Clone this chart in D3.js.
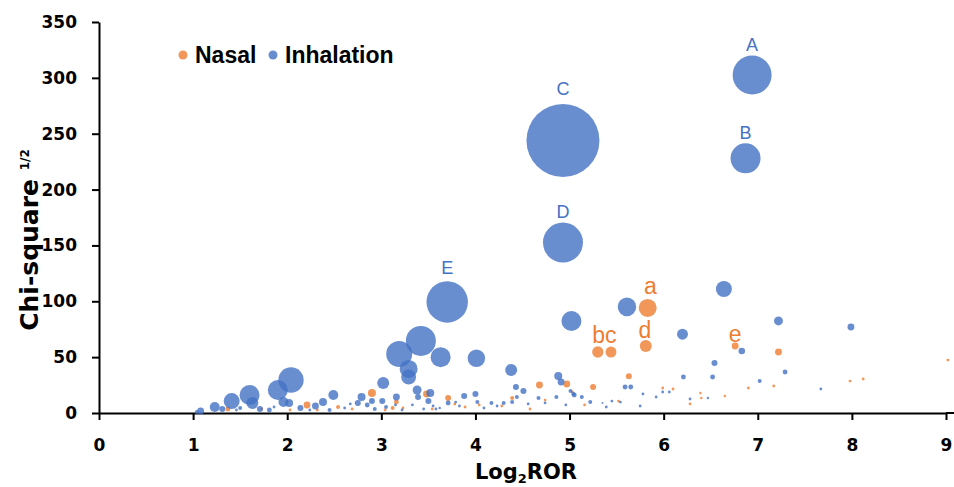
<!doctype html>
<html lang="en">
<head>
  <meta charset="utf-8">
  <title>Log2ROR vs Chi-square bubble chart</title>
<style>
body {
  margin: 0;
  background: #fff;
}
.tick text {
  font-family: "DejaVu Sans", sans-serif;
  font-weight: bold;
  font-size: 17px;
  fill: #000;
}
.axis path, .axis line {
  stroke: #000;
  stroke-width: 2;
}
</style>
<script src="https://d3js.org/d3.v7.min.js"></script>
</head>
<body>
<div class="chart"></div>

<script>
  // Nasal series (orange): Log2ROR, sqrt(chi-square), bubble size
  let nasalX = [5.83, 5.30, 5.44, 5.81, 6.76, 7.22, 4.68, 4.97, 5.25, 5.63,
                2.90, 3.48, 3.71, 2.21, 1.37, 3.16, 3.12, 2.54, 2.32, 4.04,
                4.39, 5.03, 6.10, 5.99, 7.17, 6.90, 6.39, 6.40, 6.65, 7.98,
                8.12, 9.02, 3.23, 4.74, 3.78, 1.73, 2.03, 2.69, 3.04, 3.54,
                3.89, 4.28, 4.58, 5.16, 5.52, 6.28];
  let nasalY = [94, 54.6, 54.6, 60, 60, 54.6, 25, 26, 23.3, 33,
                17.9, 17, 13.4, 7.2, 3.6, 9.8, 4.5, 5.4, 2.7, 7.2,
                13.4, 18.8, 21.5, 22.4, 24.2, 22.4, 17.9, 13.4, 15.2, 28.6,
                30.4, 47.4, 4.5, 11.6, 8, 3.6, 2.7, 3.6, 2.7, 3.6,
                5.4, 6.3, 3.6, 7.2, 10.7, 8.1];
  let nasalSize = [81, 32, 30, 36, 12, 12, 12, 12, 9, 9,
                   16, 12, 9, 12, 6, 6, 4, 4, 2, 2,
                   4, 2, 2, 2, 2, 2, 1.5, 1.5, 1.5, 2,
                   2, 2, 2, 2, 2, 2, 2, 2, 2, 2,
                   2, 2, 2, 2, 2, 2];

  // Inhalation series (blue)
  let inhalX = [6.94, 6.87, 4.93, 4.93, 3.70, 5.02, 5.61, 6.64, 6.20, 7.22,
                7.99, 6.83, 6.54, 6.21, 6.52, 7.29, 7.02, 7.67, 6.06, 6.47,
                3.42, 3.19, 3.63, 4.01, 3.29, 3.29, 3.02, 4.38, 2.04, 1.90,
                1.60, 1.41, 1.23, 1.63, 1.08, 1.04, 1.96, 2.02, 1.31, 1.71,
                1.81, 2.14, 2.30, 2.38, 2.49, 2.45, 2.79, 2.90, 2.75, 2.85,
                2.93, 3.05, 3.16, 3.38, 3.52, 3.39, 3.01, 3.50, 3.71, 3.88,
                4.00, 4.02, 4.43, 4.51, 4.88, 4.91, 5.59, 5.65, 5.01, 5.04,
                4.67, 4.86, 5.05, 5.13, 5.22, 4.44, 4.39, 4.17, 4.30, 5.99,
                5.78, 5.54, 5.35, 3.15, 3.33, 3.55, 3.62, 3.79, 1.50, 2.67,
                1.46, 1.86, 2.24, 2.61, 3.22, 3.45, 3.58, 3.83, 4.09, 4.23,
                4.56, 4.74, 4.96, 5.39, 5.45, 5.75, 5.92, 6.28];
  let inhalY = [302.6, 228, 244, 152.6, 99.4, 82.4, 95, 111, 70.5, 82.4,
                77, 55.5, 44.8, 32.2, 32.2, 36.7, 28.6, 21.5, 18.8, 13.4,
                64.5, 52.8, 50, 49, 39.4, 32.2, 26.9, 38.5, 29.5, 20.6,
                16.1, 10.7, 5.4, 9, 1.8, 0.9, 9.8, 9, 3.6, 3.6,
                2.7, 4.5, 6.3, 9.8, 16.1, 2.7, 14.3, 10.7, 9, 7.2,
                3.6, 5.4, 14.3, 20.6, 17.9, 14.3, 10.7, 10.7, 9, 15.2,
                17, 9.8, 23.3, 19.7, 33.1, 27.8, 23.3, 23.3, 19.7, 17,
                13.4, 14.3, 16.1, 14.3, 9.8, 14.3, 9.8, 9, 9, 18.8,
                17, 9.8, 9, 7.2, 7.2, 6.3, 4.5, 9.8, 4.5, 8.1,
                2.7, 5.4, 2.7, 4.5, 2.7, 3.6, 3.6, 6.3, 4.5, 6.3,
                8.1, 9, 7.2, 5.4, 10.7, 6.3, 14.3, 12.5];
  let inhalSize = [380, 225, 1332, 400, 430, 100, 86, 64, 30, 20,
                   12, 11, 9, 6, 6, 6, 4, 2, 2, 1.5,
                   225, 169, 100, 76, 81, 56, 36, 36, 161, 100,
                   100, 64, 25, 36, 12, 4, 25, 16, 9, 9,
                   6, 9, 12, 16, 25, 4, 16, 9, 9, 6,
                   4, 4, 12, 20, 16, 9, 9, 9, 6, 9,
                   9, 4, 9, 9, 16, 12, 6, 6, 4, 4,
                   4, 4, 6, 4, 4, 4, 4, 4, 4, 2,
                   2, 2, 1, 2, 2, 2, 1.5, 2, 4, 2,
                   2, 2, 2, 2, 2, 2, 2, 2, 2, 2,
                   2, 2, 2, 2, 2, 2, 2, 2];

  // point labels
  let inhalLabels = ['A', 'B', 'C', 'D', 'E'];
  let inhalLabelX = [6.94, 6.87, 4.93, 4.93, 3.70];
  let inhalLabelY = [330, 251, 290, 180, 130];
  let nasalLabels = ['a', 'bc', 'd', 'e'];
  let nasalLabelX = [5.86, 5.37, 5.80, 6.76];
  let nasalLabelY = [114, 70, 74, 71];

  let xTickValues = [0, 1, 2, 3, 4, 5, 6, 7, 8, 9];
  let yTickValues = [0, 50, 100, 150, 200, 250, 300, 350];

  let seriesNames = ['Nasal', 'Inhalation'];
  let blue = '#4472C4', orange = '#ED7D31';

  let w = 954, h = 487;

  let svg = d3.select('.chart').append('svg')
    .attr('width', w)
    .attr('height', h);

  let x = d3.scaleLinear().domain([0, 9]).range([99, 946]);
  let y = d3.scaleLinear().domain([0, 350]).range([413, 22]);
  let r = d3.scaleSqrt().domain([0, d3.max(inhalSize)]).range([0, 36.5]);

  // axes
  let xAxis = svg.append('g')
    .attr('class', 'axis')
    .attr('transform', 'translate(0,' + y(0) + ')')
    .call(d3.axisBottom(x).tickValues(xTickValues).tickSize(7)
      .tickSizeOuter(0).tickPadding(19).tickFormat(d3.format('d')));
  // axis line runs on to the edge of the picture
  xAxis.append('line')
    .attr('x1', x(9)).attr('x2', w)
    .attr('y1', 0).attr('y2', 0);

  svg.append('g')
    .attr('class', 'axis')
    .attr('transform', 'translate(' + x(0) + ',0)')
    .call(d3.axisLeft(y).tickValues(yTickValues).tickSize(7)
      .tickSizeOuter(0).tickPadding(15).tickFormat(d3.format('d')));

  // axis titles
  let xt = svg.append('text')
    .attr('x', 526)
    .attr('y', 479)
    .attr('text-anchor', 'middle')
    .style('font-family', '"DejaVu Sans", sans-serif')
    .style('font-weight', 'bold')
    .style('font-size', '21px');
  xt.append('tspan').text('Log');
  xt.append('tspan').text('2').attr('dy', 4).style('font-size', '13px');
  xt.append('tspan').text('ROR').attr('dy', -4);

  let yt = svg.append('text')
    .attr('transform', 'translate(38,240) rotate(-90)')
    .attr('text-anchor', 'middle')
    .style('font-family', '"DejaVu Sans", sans-serif')
    .style('font-weight', 'bold')
    .style('font-size', '25px');
  yt.append('tspan').text('Chi-square ');
  yt.append('tspan').text('1/2').attr('dy', -9).style('font-size', '12px');

  // bubbles: nasal first, inhalation drawn over it
  function drawSeries(xs, ys, sizes, color) {
    let pts = xs.map((d, i) => ({x: d, y: ys[i], s: sizes[i]}));
    pts.sort((a, b) => b.s - a.s);
    svg.append('g')
      .selectAll('circle')
      .data(pts)
      .enter()
      .append('circle')
      .attr('cx', d => x(d.x))
      .attr('cy', d => y(d.y))
      .attr('r', d => Math.max(1, r(d.s)))
      .attr('fill', color)
      .attr('fill-opacity', 0.8);
  }
  drawSeries(nasalX, nasalY, nasalSize, orange);
  drawSeries(inhalX, inhalY, inhalSize, blue);

  // letter labels
  svg.append('g')
    .selectAll('text')
    .data(inhalLabels)
    .enter()
    .append('text')
    .attr('x', (d, i) => x(inhalLabelX[i]))
    .attr('y', (d, i) => y(inhalLabelY[i]))
    .attr('dy', '0.35em')
    .attr('text-anchor', 'middle')
    .attr('fill', blue)
    .style('font-family', '"Liberation Sans", sans-serif')
    .style('font-size', '18px')
    .text(d => d);

  svg.append('g')
    .selectAll('text')
    .data(nasalLabels)
    .enter()
    .append('text')
    .attr('x', (d, i) => x(nasalLabelX[i]))
    .attr('y', (d, i) => y(nasalLabelY[i]))
    .attr('dy', '0.35em')
    .attr('text-anchor', 'middle')
    .attr('fill', orange)
    .style('font-family', '"Liberation Sans", sans-serif')
    .style('font-size', '23px')
    .text(d => d);

  // legend
  let legend = svg.append('g').attr('transform', 'translate(183,55)');
  let legendX = [0, 90];
  let lg = legend.selectAll('g')
    .data(seriesNames)
    .enter()
    .append('g')
    .attr('transform', (d, i) => 'translate(' + legendX[i] + ',0)');
  lg.append('circle')
    .attr('r', 4.5)
    .attr('fill', (d, i) => i === 0 ? orange : blue)
    .attr('fill-opacity', 0.8);
  lg.append('text')
    .attr('x', 12)
    .attr('y', 8)
    .style('font-family', '"Liberation Sans", sans-serif')
    .style('font-weight', 'bold')
    .style('font-size', '23px')
    .text(d => d);
</script>
</body>
</html>
